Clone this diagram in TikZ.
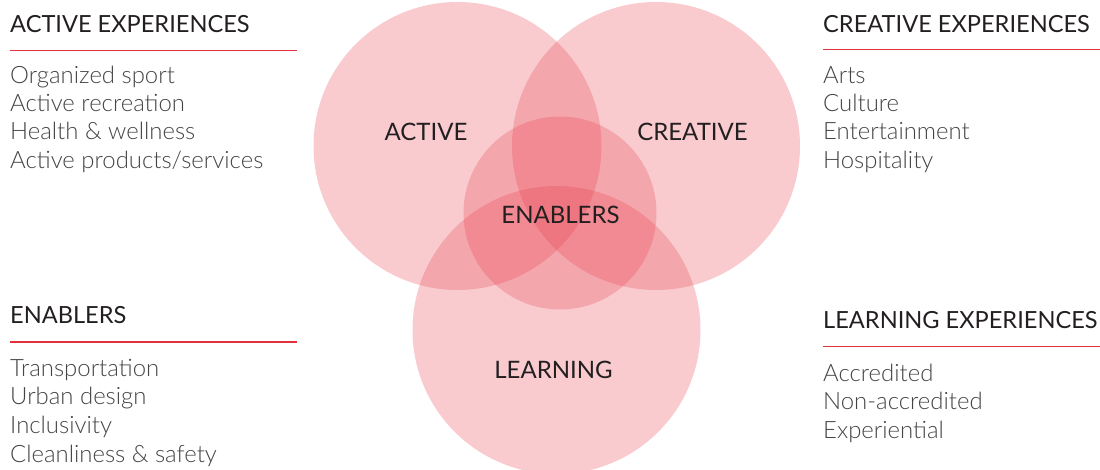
\documentclass[tikz,border=0pt]{standalone}
\usepackage{fontspec}
\setmainfont{Lato}
\newfontfamily\lightfont{Lato Light}
\usepackage{tikz}
\usepackage{xcolor}

\definecolor{vennred}{HTML}{E8404F}
\definecolor{rulered}{HTML}{E3303D}
\definecolor{headtext}{HTML}{231F20}
\definecolor{itemtext}{HTML}{444444}

\begin{document}
\begin{tikzpicture}[x=1pt, y=-1pt,
        venn/.style={circle, fill=vennred, fill opacity=0.27, inner sep=0pt},
        ringlabel/.style={font=\fontsize{24}{28}\selectfont, text=headtext, inner sep=0pt, anchor=base},
        head/.style={font=\fontsize{23.6}{28}\selectfont, text=headtext, inner sep=0pt, anchor=base west},
        item/.style={font=\lightfont\fontsize{23.9}{28}\selectfont, text=itemtext, inner sep=0pt, anchor=base west},
        rule/.style={draw=rulered, line width=1.3pt}]

        \useasboundingbox (0,0) rectangle (1100,469);

        % circles
        \node[venn, minimum size=288pt] (active) at (457.5, 146) {};
        \node[venn, minimum size=288pt] (creative) at (656, 146) {};
        \node[venn, minimum size=288pt] (learning) at (556.5, 330) {};
        \node[venn, minimum size=193pt] (enablers) at (560, 213) {};

        \node[ringlabel] (active-t) at (426, 140) {ACTIVE};
        \node[ringlabel] (creative-t) at (692.5, 140) {CREATIVE};
        \node[ringlabel] (enablers-t) at (560.5, 223) {ENABLERS};
        \node[ringlabel] (learning-t) at (553.5, 378) {LEARNING};

        % active experiences
        \node[head] (act-h) at (10, 32) {ACTIVE EXPERIENCES};
        \coordinate (act-l) at (10, 50.5);
        \coordinate (act-r) at (297, 50.5);
        \draw[rule] (act-l) -- (act-r);
        \foreach \txt [count=\i] in {Organized sport, Active recreation, Health \& wellness, {Active products/services}}
            \node[item] (act-\i) at (10, {83+28.4*(\i-1)}) {\txt};

        % creative experiences
        \node[head] (cre-h) at (823, 32) {CREATIVE EXPERIENCES};
        \coordinate (cre-l) at (823, 49.5);
        \coordinate (cre-r) at (1100, 49.5);
        \draw[rule] (cre-l) -- (cre-r);
        \foreach \txt [count=\i] in {Arts, Culture, Entertainment, Hospitality}
            \node[item] (cre-\i) at (823, {83+28.4*(\i-1)}) {\txt};

        % enablers
        \node[head] (ena-h) at (10, 323) {ENABLERS};
        \coordinate (ena-l) at (10, 342);
        \coordinate (ena-r) at (297, 342);
        \draw[rule] (ena-l) -- (ena-r);
        \foreach \txt [count=\i] in {Transportation, Urban design, Inclusivity, Cleanliness \& safety}
            \node[item] (ena-\i) at (10, {376+28.7*(\i-1)}) {\txt};

        % learning experiences
        \node[head] (lea-h) at (823, 328) {LEARNING EXPERIENCES};
        \coordinate (lea-l) at (823, 346.5);
        \coordinate (lea-r) at (1100, 346.5);
        \draw[rule] (lea-l) -- (lea-r);
        \foreach \txt [count=\i] in {Accredited, Non-accredited, Experiential}
            \node[item] (lea-\i) at (823, {381+28.7*(\i-1)}) {\txt};
    \end{tikzpicture}
\end{document}
